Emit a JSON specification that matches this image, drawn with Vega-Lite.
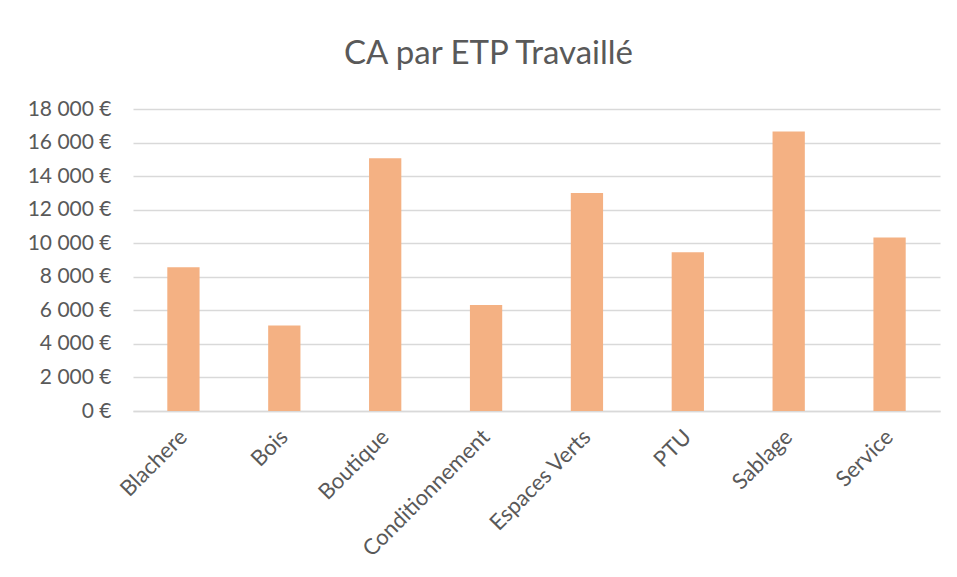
{
  "$schema": "https://vega.github.io/schema/vega-lite/v6.json",
  "width": 807,
  "height": 302,
  "autosize": {"type": "none"},
  "padding": {"left": 133, "top": 109, "right": 17, "bottom": 166},
  "background": "white",
  "title": {
    "text": "CA par ETP Travaillé",
    "font": "Lato",
    "fontSize": 33,
    "fontWeight": "normal",
    "color": "#595959",
    "anchor": "middle",
    "dx": -48,
    "offset": 27
  },
  "data": {
    "values": [
      {"secteur": "Blachere", "ca": 8574},
      {"secteur": "Bois", "ca": 5100},
      {"secteur": "Boutique", "ca": 15065},
      {"secteur": "Conditionnement", "ca": 6311},
      {"secteur": "Espaces Verts", "ca": 12998},
      {"secteur": "PTU", "ca": 9467},
      {"secteur": "Sablage", "ca": 16653},
      {"secteur": "Service", "ca": 10342}
    ]
  },
  "mark": {"type": "bar", "color": "#F4B183"},
  "encoding": {
    "x": {
      "field": "secteur",
      "type": "nominal",
      "sort": null,
      "scale": {"paddingInner": 0.68, "paddingOuter": 0.34},
      "axis": {
        "title": null,
        "labelAngle": -45,
        "labelAlign": "right",
        "labelBaseline": "middle",
        "labelFont": "Lato",
        "labelFontSize": 22,
        "labelColor": "#595959",
        "labelPadding": 22,
        "ticks": false,
        "domainColor": "#d9d9d9",
        "domainWidth": 1.5
      }
    },
    "y": {
      "field": "ca",
      "type": "quantitative",
      "scale": {"domain": [0, 18000], "nice": false},
      "axis": {
        "title": null,
        "values": [0, 2000, 4000, 6000, 8000, 10000, 12000, 14000, 16000, 18000],
        "labelExpr": "replace(format(datum.value, ','), ',', ' ') + ' €'",
        "labelFont": "Lato",
        "labelFontSize": 21,
        "labelColor": "#595959",
        "labelPadding": 22,
        "ticks": false,
        "domain": false,
        "gridColor": "#d9d9d9",
        "gridWidth": 1.5
      }
    }
  },
  "config": {
    "view": {"stroke": null}
  }
}
